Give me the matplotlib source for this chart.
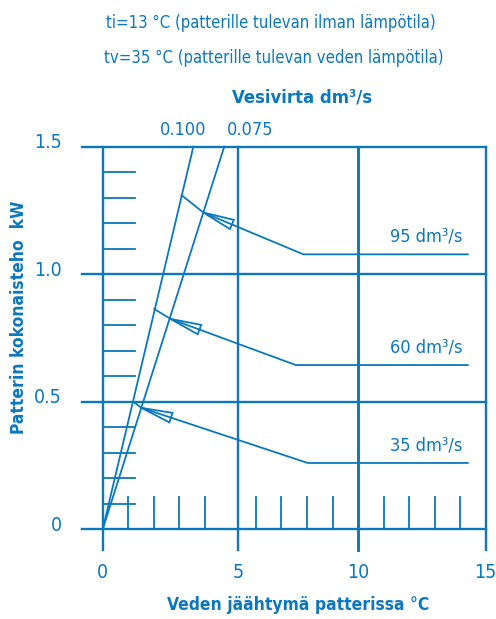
import matplotlib.pyplot as plt
from matplotlib.patches import Polygon

plt.rcParams['font.family'] = ['DejaVu Sans Condensed', 'DejaVu Sans']
plt.rcParams['font.stretch'] = 'condensed'
blue = '#0a78be'

# vesivirta lines (water flow dm3/s), end points at top of chart
flow_labels = ['0.100', '0.075']
flow_top_x = [3.55, 4.76]
flow_top_y = [1.5, 1.5]

# air flow curves: point on 0.100 line, arrow tip on 0.075 line, knee, end
air_labels = ['95 dm³/s', '60 dm³/s', '35 dm³/s']
air_x = [[3.09, 3.94, 7.86, 14.3],
         [2.02, 2.65, 7.56, 14.3],
         [1.20, 1.52, 8.03, 14.3]]
air_y = [[1.31, 1.242, 1.078, 1.078],
         [0.864, 0.825, 0.644, 0.644],
         [0.50, 0.476, 0.26, 0.26]]

xticks = [0, 5.3, 10, 15]
xlabels = ['0', '5', '10', '15']
yticks = [0, 0.5, 1.0, 1.5]
ylabels = ['0', '0.5', '1.0', '1.5']
minor_x = [1, 2, 3, 4, 6, 7, 8, 9, 11, 12, 13, 14]
minor_y = [0.1, 0.2, 0.3, 0.4, 0.6, 0.7, 0.8, 0.9, 1.1, 1.2, 1.3, 1.4]

fig = plt.figure(figsize=(4.96, 6.19), dpi=100)
ax = fig.add_axes([102.7 / 496, 1 - 529.3 / 619, 383 / 496, 382.6 / 619])
ax.set_xlim(0, 15)
ax.set_ylim(0, 1.5)
ax.axis('off')

lw = 1.3
# grid
for y in yticks:
    ax.plot([-0.8, 15], [y, y], color=blue, lw=lw + 0.4, clip_on=False)
for x in xticks:
    ax.plot([x, x], [-0.08, 1.5], color=blue, lw=lw + (0.8 if x == 10 else 0.4), clip_on=False)
for x in minor_x:
    ax.plot([x, x], [0, 0.125], color=blue, lw=lw, clip_on=False)
for y in minor_y:
    ax.plot([0, 1.27], [y, y], color=blue, lw=lw, clip_on=False)

# tick labels
for x, s in zip(xticks, xlabels):
    ax.text(x, -0.17, s, color=blue, fontsize=14, ha='center', va='center')
for y, s in zip(yticks, ylabels):
    ax.text(-1.6, y + 0.015, s, color=blue, fontsize=14, ha='right', va='center')

# flow lines
for x, y in zip(flow_top_x, flow_top_y):
    ax.plot([0, x], [0, y], color=blue, lw=lw, clip_on=False)
ax.text(3.15, 1.565, flow_labels[0], color=blue, fontsize=13, ha='center', va='center')
ax.text(5.77, 1.565, flow_labels[1], color=blue, fontsize=13, ha='center', va='center')

# air curves with open arrowheads
for xs, ys, s in zip(air_x, air_y, air_labels):
    ax.plot(xs, ys, color=blue, lw=lw, clip_on=False)
    tx, ty = xs[1], ys[1]
    dxp = (xs[2] - tx) * 25.53
    dyp = (ys[2] - ty) * 255.1
    n = (dxp ** 2 + dyp ** 2) ** 0.5
    ux, uy = dxp / n, dyp / n
    L, W = 31, 5
    bx, by = ux * L, uy * L
    p1 = (tx + (bx - uy * W) / 25.53, ty + (by + ux * W) / 255.1)
    p2 = (tx + (bx + uy * W) / 25.53, ty + (by - ux * W) / 255.1)
    ax.add_patch(Polygon([(tx, ty), p1, p2], closed=True, fill=False,
                         edgecolor=blue, lw=lw, clip_on=False))
    ax.text(14.1, ys[3] + 0.07, s, color=blue, fontsize=13, ha='right', va='center')

# titles and axis labels
fig.text(271 / 496, 1 - 23 / 619, 'ti=13 °C (patterille tulevan ilman lämpötila)',
         color=blue, fontsize=12, ha='center', va='center')
fig.text(274 / 496, 1 - 58 / 619, 'tv=35 °C (patterille tulevan veden lämpötila)',
         color=blue, fontsize=12, ha='center', va='center')
fig.text(302 / 496, 1 - 98 / 619, 'Vesivirta dm³/s', color=blue, fontsize=13.2,
         fontweight='bold', ha='center', va='center')
fig.text(298 / 496, 1 - 605 / 619, 'Veden jäähtymä patterissa °C', color=blue,
         fontsize=12.5, fontweight='bold', ha='center', va='center')
fig.text(19 / 496, 1 - 317 / 619, 'Patterin kokonaisteho  kW', color=blue,
         fontsize=12.5, fontweight='bold', ha='center', va='center', rotation=90)

fig.savefig('out.png', dpi=100)
